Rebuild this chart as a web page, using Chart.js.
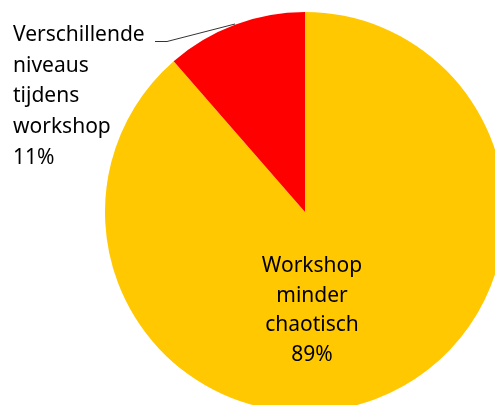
<!DOCTYPE html>
<html>
<head>
<meta charset="utf-8">
<script src="https://cdn.jsdelivr.net/npm/chart.js@4"></script>
<style>
  html, body { margin: 0; padding: 0; background: #fff; overflow: hidden; }
  #wrap { width: 495px; height: 405px; overflow: hidden; position: relative; }
  canvas { position: absolute; left: 0; top: 0; }
</style>
</head>
<body>
<div id="wrap"><canvas id="myChart" width="610" height="424"></canvas></div>
<script>
const categories = ["Workshop minder chaotisch", "Verschillende niveaus tijdens workshop"]
const values = [88.6, 11.4]
const colors = ["#FFC800", "#FF0000"]

// category names split the way they wrap in the picture
const labelLines = [
  ["Workshop", "minder", "chaotisch"],
  ["Verschillende", "niveaus", "tijdens", "workshop"]
]

const labelFont = '21px "Noto Sans"'

function pct(i) {
  let total = values.reduce((a, b) => a + b, 0)
  return Math.round(values[i] / total * 100) + "%"
}

const labelPlugin = {
  id: "labels",
  afterDraw(chart) {
    let ctx = chart.ctx
    ctx.save()
    ctx.font = labelFont
    ctx.fillStyle = "#000"
    ctx.textBaseline = "alphabetic"

    // inner label of the big slice
    ctx.textAlign = "center"
    let inner = labelLines[0].concat([pct(0)])
    inner.forEach((line, i) => {
      ctx.fillText(line, 312, 272 + i * 29.7)
    })

    // outside label of the small slice
    ctx.textAlign = "left"
    let outer = labelLines[1].concat([pct(1)])
    outer.forEach((line, i) => {
      ctx.fillText(line, 13, 41 + i * 30.7)
    })

    // leader line
    ctx.strokeStyle = "#333"
    ctx.lineWidth = 1
    ctx.beginPath()
    ctx.moveTo(155, 41.5)
    ctx.lineTo(167, 41.5)
    ctx.lineTo(235, 24)
    ctx.stroke()
    ctx.restore()
  }
}

let ctx = document.getElementById("myChart")
let myChart = new Chart(ctx, {
  type: "pie",
  data: {
    labels: categories,
    datasets: [
      {
        data: values,
        backgroundColor: colors,
        borderWidth: 0,
      },
    ],
  },
  options: {
    responsive: false,
    devicePixelRatio: 1,
    animation: false,
    layout: { padding: 12 },
    plugins: {
      legend: { display: false },
      tooltip: { enabled: false },
    },
  },
  plugins: [labelPlugin],
})
</script>
</body>
</html>
